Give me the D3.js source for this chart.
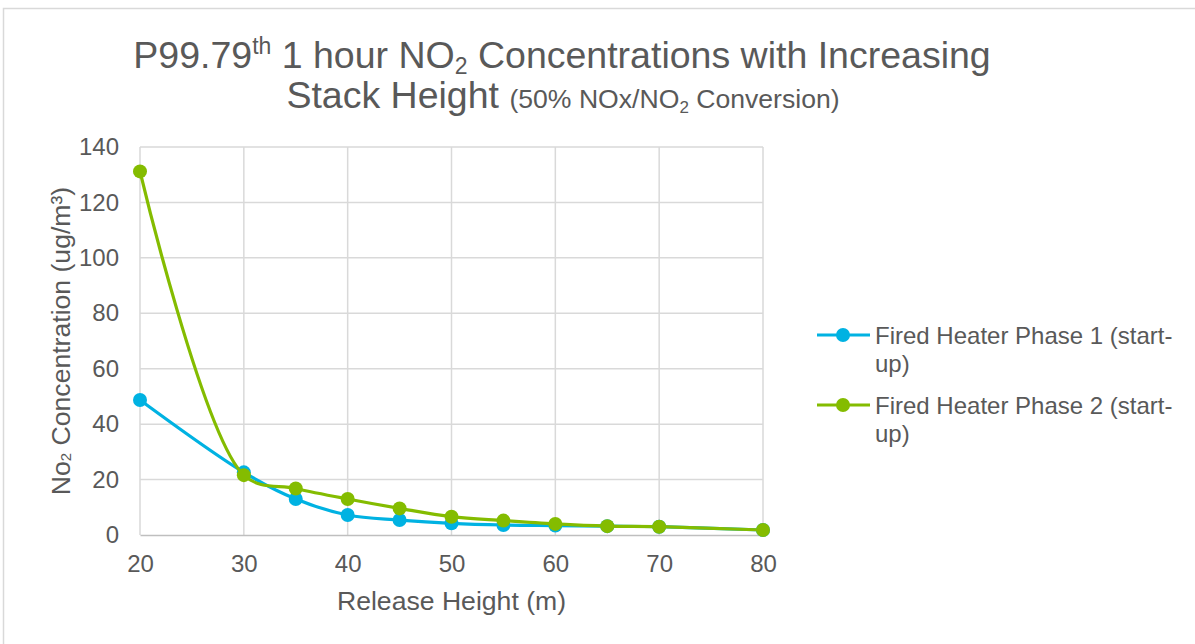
<!DOCTYPE html>
<html>
<head>
<meta charset="utf-8">
<script src="https://cdn.jsdelivr.net/npm/d3@7"></script>
<style>
  html, body { margin: 0; padding: 0; background: #fff; }
  svg { display: block; font-family: "Liberation Sans", Arial, sans-serif; }
</style>
</head>
<body>
<svg id="chart" width="1195" height="644"></svg>
<script>
// Release heights (m)
const heights = [20, 30, 35, 40, 45, 50, 55, 60, 65, 70, 80];
// P99.79th 1-hour NO2 concentrations (ug/m3)
const phase1 = [48.7, 22.6, 13.0, 7.2, 5.4, 4.2, 3.6, 3.4, 3.2, 3.0, 1.8];
const phase2 = [131.2, 21.6, 16.8, 13.0, 9.6, 6.6, 5.2, 4.0, 3.2, 3.0, 1.8];
const seriesNames = ["Fired Heater Phase 1 (start-up)", "Fired Heater Phase 2 (start-up)"];
const xTicks = [20, 30, 40, 50, 60, 70, 80];
const yTicks = [0, 20, 40, 60, 80, 100, 120, 140];

const colors = ["#00B2E2", "#84BC00"];
const textColor = "#595959";
const FONT = "Liberation Sans, Arial, sans-serif";

const svg = d3.select("#chart");

// outer chart frame
svg.append("rect")
  .attr("x", 3.5).attr("y", 8.5)
  .attr("width", 1300).attr("height", 700)
  .attr("fill", "#fff").attr("stroke", "#d9d9d9").attr("stroke-width", 1.5);

const plot = { left: 140, right: 763, top: 147, bottom: 535 };
const x = d3.scaleLinear().domain([20, 80]).range([plot.left, plot.right]);
const y = d3.scaleLinear().domain([0, 140]).range([plot.bottom, plot.top]);

// gridlines
const grid = svg.append("g");
grid.selectAll("line.h").data(yTicks.filter(d => d > 0)).join("line")
  .attr("x1", plot.left).attr("x2", plot.right)
  .attr("y1", d => y(d)).attr("y2", d => y(d))
  .attr("stroke", "#d9d9d9").attr("stroke-width", 1.5);
grid.selectAll("line.v").data(xTicks).join("line")
  .attr("y1", plot.top).attr("y2", plot.bottom)
  .attr("x1", d => x(d)).attr("x2", d => x(d))
  .attr("stroke", "#d9d9d9").attr("stroke-width", 1.5);

// x axis
const xAxis = svg.append("g")
  .attr("transform", `translate(0,${plot.bottom})`)
  .call(d3.axisBottom(x).tickValues(xTicks).tickSize(0).tickPadding(20));
xAxis.select(".domain").attr("stroke", "#bfbfbf").attr("stroke-width", 1.5);
xAxis.selectAll("text").attr("fill", textColor).attr("font-size", 24)
  .attr("font-family", FONT);

// y axis
const yAxis = svg.append("g")
  .attr("transform", `translate(${plot.left},0)`)
  .call(d3.axisLeft(y).tickValues(yTicks).tickSize(0).tickPadding(21));
yAxis.select(".domain").remove();
yAxis.selectAll("text").attr("fill", textColor).attr("font-size", 24)
  .attr("font-family", FONT);

// axis titles
svg.append("text")
  .attr("x", (plot.left + plot.right) / 2).attr("y", 610)
  .attr("text-anchor", "middle").attr("fill", textColor).attr("font-size", 26.6)
  .text("Release Height (m)");

const yTitle = svg.append("text")
  .attr("transform", `translate(70,${(plot.top + plot.bottom) / 2}) rotate(-90)`)
  .attr("text-anchor", "middle").attr("fill", textColor).attr("font-size", 26.6);
yTitle.append("tspan").text("No");
yTitle.append("tspan").attr("font-size", 15).attr("dy", 1).text("2");
yTitle.append("tspan").attr("dy", -1).text(" Concentration (ug/m³)");

// title
const t1 = svg.append("text")
  .attr("x", 562).attr("y", 68).attr("text-anchor", "middle")
  .attr("fill", textColor).attr("font-size", 37.5);
t1.append("tspan").text("P99.79");
t1.append("tspan").attr("font-size", 23).attr("dy", -14).text("th");
t1.append("tspan").attr("dy", 14).text(" 1 hour NO");
t1.append("tspan").attr("font-size", 23).attr("dy", 6).text("2");
t1.append("tspan").attr("dy", -6).text(" Concentrations with Increasing");

const t2 = svg.append("text")
  .attr("x", 563).attr("y", 108).attr("text-anchor", "middle")
  .attr("fill", textColor).attr("font-size", 37.5);
t2.append("tspan").text("Stack Height ");
t2.append("tspan").attr("font-size", 26.6).text("(50% NOx/NO");
t2.append("tspan").attr("font-size", 17).attr("dy", 5).text("2");
t2.append("tspan").attr("font-size", 26.6).attr("dy", -5).text(" Conversion)");

// series
const series = [phase1, phase2].map((vals, i) => ({
  name: seriesNames[i], color: colors[i],
  points: heights.map((h, j) => ({ h, v: vals[j] }))
}));

const line = d3.line()
  .x(d => x(d.h)).y(d => y(d.v))
  .curve(d3.curveCatmullRom.alpha(0.5));

series.forEach(s => {
  const g = svg.append("g");
  g.append("path").datum(s.points)
    .attr("d", line).attr("fill", "none")
    .attr("stroke", s.color).attr("stroke-width", 3.2)
    .attr("stroke-linejoin", "round");
  g.selectAll("circle").data(s.points).join("circle")
    .attr("cx", d => x(d.h)).attr("cy", d => y(d.v)).attr("r", 7)
    .attr("fill", s.color);
});

// legend
const legend = svg.append("g");
series.forEach((s, i) => {
  const cy = 335 + i * 70;
  legend.append("line")
    .attr("x1", 817).attr("x2", 870).attr("y1", cy).attr("y2", cy)
    .attr("stroke", s.color).attr("stroke-width", 3.2);
  legend.append("circle").attr("cx", 843).attr("cy", cy).attr("r", 7).attr("fill", s.color);
  const parts = s.name.split("(start-");
  const txt = legend.append("text").attr("fill", textColor).attr("font-size", 24);
  txt.append("tspan").attr("x", 875).attr("y", cy + 9).text(parts[0] + "(start-");
  txt.append("tspan").attr("x", 875).attr("y", cy + 37).text(parts[1]);
});
</script>
</body>
</html>
